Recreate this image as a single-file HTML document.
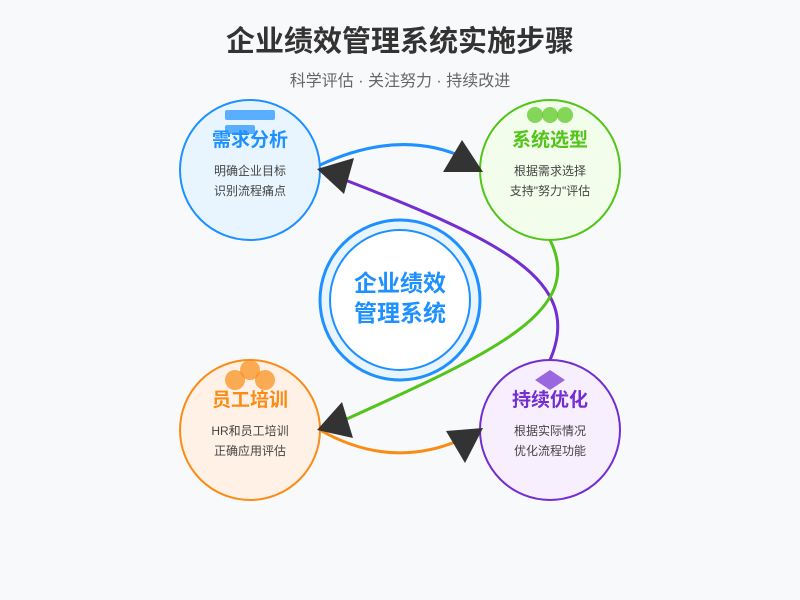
<!DOCTYPE html>
<html><head><meta charset="utf-8"><style>
body{margin:0;background:#f8f9fb;}
svg{display:block;font-family:"Liberation Sans","Noto Sans CJK SC",sans-serif;}
</style></head><body>
<svg width="800" height="600" viewBox="0 0 800 600">
<rect width="800" height="600" fill="#f8f9fb"/>
<text x="400" y="51" text-anchor="middle" font-size="29" font-weight="bold" fill="#333">企业绩效管理系统实施步骤</text>
<text x="400" y="86" text-anchor="middle" font-size="16" fill="#666">科学评估 · 关注努力 · 持续改进</text>

<circle cx="250" cy="170" r="70" fill="#e8f5ff" stroke="#1e90ff" stroke-width="2"/>
<circle cx="550" cy="170" r="70" fill="#f3fdeb" stroke="#52c41a" stroke-width="2"/>
<circle cx="250" cy="430" r="70" fill="#fff1e6" stroke="#fa8c16" stroke-width="2"/>
<circle cx="550" cy="430" r="70" fill="#f7eefe" stroke="#722ed1" stroke-width="2"/>

<circle cx="400" cy="300" r="80" fill="#e8f5ff" stroke="#1e90ff" stroke-width="3"/>
<circle cx="400" cy="300" r="70" fill="#fff" stroke="#1e90ff" stroke-width="2"/>
<text x="400" y="291" text-anchor="middle" font-size="23" font-weight="bold" fill="#1e90ff">企业绩效</text>
<text x="400" y="321" text-anchor="middle" font-size="23" font-weight="bold" fill="#1e90ff">管理系统</text>

<path d="M320,165 Q400,128 465,158" fill="none" stroke="#1e90ff" stroke-width="3"/>
<path d="M550,360 C585,280 500,240 340,178" fill="none" stroke="#722ed1" stroke-width="3"/>
<path d="M550,240 C585,310 500,350 340,422" fill="none" stroke="#52c41a" stroke-width="3"/>
<path d="M320,430 Q390,470 460,440" fill="none" stroke="#fa8c16" stroke-width="3"/>

<polygon points="443,172 483,172 462,140" fill="#333"/>
<polygon points="317,169 354,158 344,194" fill="#333"/>
<polygon points="317,430 342,402 353,438" fill="#333"/>
<polygon points="446,431 483,428 465,463" fill="#333"/>

<rect x="225" y="110" width="50" height="10" rx="2" fill="#1e90ff" opacity="0.7"/>
<rect x="225" y="125" width="30" height="9" rx="2" fill="#1e90ff" opacity="0.7"/>
<circle cx="535" cy="115" r="8" fill="#52c41a" opacity="0.7"/>
<circle cx="550" cy="115" r="8" fill="#52c41a" opacity="0.7"/>
<circle cx="565" cy="115" r="8" fill="#52c41a" opacity="0.7"/>
<circle cx="235" cy="380" r="10" fill="#fa8c16" opacity="0.7"/>
<circle cx="250" cy="370" r="10" fill="#fa8c16" opacity="0.7"/>
<circle cx="265" cy="380" r="10" fill="#fa8c16" opacity="0.7"/>
<polygon points="550,370 565,380 550,390 535,380" fill="#722ed1" opacity="0.7"/>

<g font-weight="bold" font-size="19" text-anchor="middle">
<text x="250" y="146" fill="#1e90ff">需求分析</text>
<text x="550" y="146" fill="#52c41a">系统选型</text>
<text x="250" y="406" fill="#fa8c16">员工培训</text>
<text x="550" y="406" fill="#722ed1">持续优化</text>
</g>
<g font-size="12" text-anchor="middle" fill="#444">
<text x="250" y="175">明确企业目标</text>
<text x="250" y="195">识别流程痛点</text>
<text x="550" y="175">根据需求选择</text>
<text x="550" y="195">支持"努力"评估</text>
<text x="250" y="435">HR和员工培训</text>
<text x="250" y="455">正确应用评估</text>
<text x="550" y="435">根据实际情况</text>
<text x="550" y="455">优化流程功能</text>
</g>
</svg>
</body></html>
